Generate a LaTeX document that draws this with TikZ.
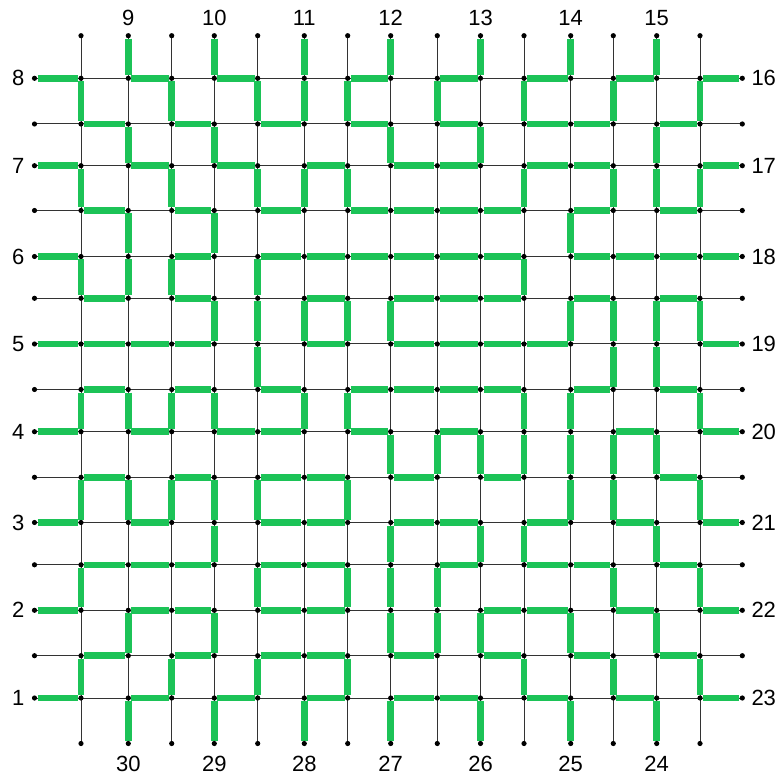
\documentclass[tikz,border=0pt]{standalone}
\usepackage{fontspec}
\setmainfont{Liberation Sans}
\definecolor{segc}{RGB}{28,195,87}
\begin{document}
\begin{tikzpicture}[x=1pt,y=-1pt,
  gridline/.style={line width=1pt, draw=black!80},
  seg/.style={line width=6.6pt, draw=segc, shorten <=3pt, shorten >=3pt},
  lab/.style={font=\fontsize{22}{26}\selectfont, inner sep=0pt}]
\useasboundingbox (0,0) rectangle (784,783);
% grid points
\foreach \xv [count=\i from 0] in {34.5,81,128.3,171.7,214.3,257.7,304.3,347.7,390.7,437.3,480.5,524,570.7,613.3,656.7,700,742.3}{
  \foreach \yv [count=\j from 0] in {35.7,78.3,124,165.7,210.5,256.5,298.3,344,389.5,431.7,477.3,522.5,564.8,610.3,655.7,698,743.5}{
    \coordinate (p-\i-\j) at (\xv,\yv);
  }
}
% thin grid lines
\foreach \j in {1,...,15} \draw[gridline] (p-0-\j) -- (p-16-\j);
\foreach \i in {1,...,15} \draw[gridline] (p-\i-0) -- (p-\i-16);
% green horizontal segments (row / columns)
\foreach \j/\is in {
  1/{0,2,4,7,9,11,13,15},
  2/{1,3,5,7,9,11,12,14},
  3/{0,2,4,6,8,9,11,12,15},
  4/{1,3,5,7,8,9,10,12,14},
  5/{0,3,5,6,7,8,9,10,12,13,14,15},
  6/{1,3,6,8,9,10,12,14},
  7/{0,1,2,3,6,8,9,10,11,15},
  8/{1,3,5,7,8,9,10,12,14},
  9/{0,2,4,5,7,9,13,15},
  10/{1,3,5,6,8,10,14},
  11/{0,2,5,6,8,9,11,13,15},
  12/{1,2,3,5,6,9,11,12,14},
  13/{0,2,3,5,6,10,11,13,15},
  14/{1,3,5,6,8,10,12,14},
  15/{0,2,4,6,8,9,11,13,15}}{
  \foreach \i in \is {
    \pgfmathtruncatemacro\ii{\i+1}
    \draw[seg] (p-\i-\j) -- (p-\ii-\j);
  }
}
% green vertical segments (row start / columns)
\foreach \j/\is in {
  0/{2,4,6,8,10,12,14},
  1/{1,3,5,6,7,9,11,13,15},
  2/{2,4,8,10,14},
  3/{1,3,5,6,7,11,13,14,15},
  4/{2,4,12},
  5/{1,2,3,5,11},
  6/{4,5,6,7,8,12,13,14,15},
  7/{5,13,14},
  8/{1,2,3,4,6,7,11,12,15},
  9/{8,9,10,11,12,13,14},
  10/{1,2,3,4,5,7,12,13,15},
  11/{4,8,10,11,14},
  12/{1,5,7,8,9,13,15},
  13/{2,4,8,9,10,12,14},
  14/{1,3,5,7,11,13,15},
  15/{2,4,6,8,10,12,14}}{
  \foreach \i in \is {
    \pgfmathtruncatemacro\jj{\j+1}
    \draw[seg] (p-\i-\j) -- (p-\i-\jj);
  }
}
% dots
\foreach \i in {0,...,16}{
  \foreach \j in {0,...,16}{
    \pgfmathtruncatemacro\corner{and(or(\i==0,\i==16),or(\j==0,\j==16))}
    \ifnum\corner=0 \fill[black] (p-\i-\j) circle (2.6pt); \fi
  }
}
% labels
\foreach \n [count=\k] in {9,...,15}{
  \pgfmathtruncatemacro\c{2*\k}
  \node[lab] (top\n) at ([yshift=18pt]p-\c-0) {\n};
}
\foreach \n [count=\k] in {30,29,28,27,26,25,24}{
  \pgfmathtruncatemacro\c{2*\k}
  \node[lab] (bot\n) at ([yshift=-20pt]p-\c-16) {\n};
}
\foreach \n [count=\k] in {8,7,6,5,4,3,2,1}{
  \pgfmathtruncatemacro\r{2*\k-1}
  \node[lab, anchor=east] (left\n) at ([xshift=-10pt]p-0-\r) {\n};
}
\foreach \n [count=\k] in {16,...,23}{
  \pgfmathtruncatemacro\r{2*\k-1}
  \node[lab, anchor=west] (right\n) at ([xshift=9pt]p-16-\r) {\n};
}
\end{tikzpicture}
\end{document}
